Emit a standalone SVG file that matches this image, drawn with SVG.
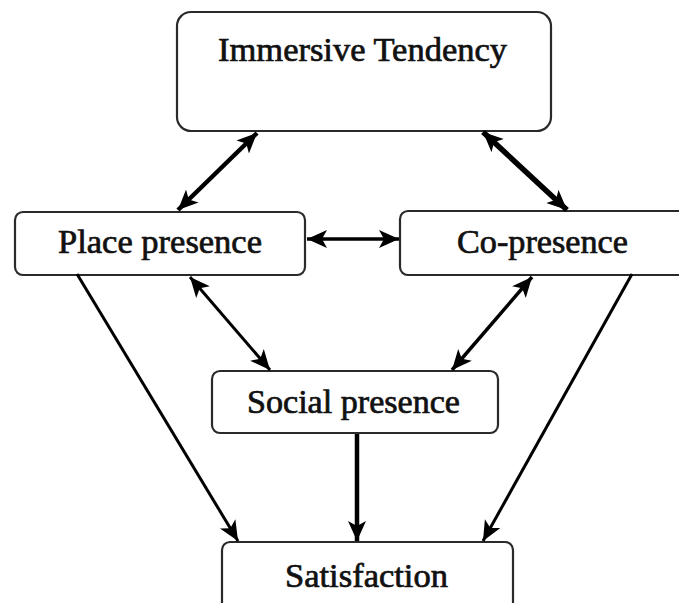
<svg xmlns="http://www.w3.org/2000/svg" width="679" height="603" viewBox="0 0 679 603">
<style>
.box{fill:#fff;stroke:#2a2a2a;stroke-width:2.2}
.lbl{font-family:"Liberation Serif","Times New Roman",serif;font-size:33px;fill:#111;stroke:#111;stroke-width:0.7}
.c{stroke:#000;fill:none}
</style>
<defs>
<marker id="ah" markerUnits="userSpaceOnUse" markerWidth="24" markerHeight="20" refX="20" refY="9" orient="auto-start-reverse">
<path d="M0,0 L20,9 L0,18 L5,9 z" fill="#000"/>
</marker>
</defs>
<rect width="679" height="603" fill="#fff"/>
<g id="immersive">
<rect class="box" x="177" y="12" width="374" height="119" rx="14"/>
<text class="lbl" x="218" y="61" textLength="289" lengthAdjust="spacingAndGlyphs">Immersive Tendency</text>
</g>
<g id="place">
<rect class="box" x="15" y="212" width="290" height="63" rx="8"/>
<text class="lbl" x="58" y="253" textLength="204" lengthAdjust="spacingAndGlyphs">Place presence</text>
</g>
<g id="copresence">
<rect class="box" x="400" y="211" width="300" height="64" rx="8"/>
<text class="lbl" x="457" y="253" textLength="171" lengthAdjust="spacingAndGlyphs">Co-presence</text>
</g>
<g id="social">
<rect class="box" x="212" y="371" width="286" height="62" rx="8"/>
<text class="lbl" x="247" y="413" textLength="213" lengthAdjust="spacingAndGlyphs">Social presence</text>
</g>
<g id="satisfaction">
<rect class="box" x="222" y="542" width="291" height="90" rx="8"/>
<text class="lbl" x="285" y="587" textLength="163" lengthAdjust="spacingAndGlyphs">Satisfaction</text>
</g>
<g id="connectors">
<line class="c" x1="257" y1="133" x2="178" y2="210" stroke-width="4.5" marker-start="url(#ah)" marker-end="url(#ah)"/>
<line class="c" x1="483" y1="132" x2="567" y2="210" stroke-width="5.5" marker-start="url(#ah)" marker-end="url(#ah)"/>
<line class="c" x1="307" y1="239" x2="399" y2="239" stroke-width="3.5" marker-start="url(#ah)" marker-end="url(#ah)"/>
<line class="c" x1="190" y1="277" x2="270" y2="370" stroke-width="3" marker-start="url(#ah)" marker-end="url(#ah)"/>
<line class="c" x1="532" y1="277" x2="452" y2="370" stroke-width="3.5" marker-start="url(#ah)" marker-end="url(#ah)"/>
<line class="c" x1="77" y1="274" x2="238" y2="541" stroke-width="3" marker-end="url(#ah)"/>
<line class="c" x1="357" y1="434" x2="357" y2="541" stroke-width="4.5" marker-end="url(#ah)"/>
<line class="c" x1="632" y1="274" x2="483" y2="541" stroke-width="3" marker-end="url(#ah)"/>
</g>
</svg>
